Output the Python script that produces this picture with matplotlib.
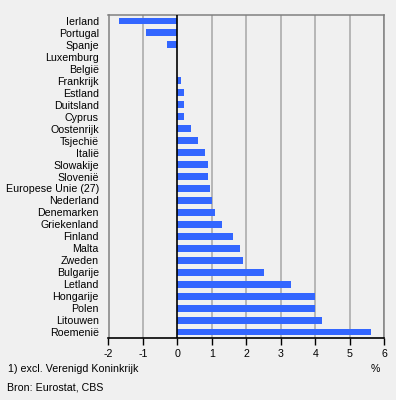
import matplotlib.pyplot as plt

countries = ["Ierland", "Portugal", "Spanje", "Luxemburg", "België", "Frankrijk",
             "Estland", "Duitsland", "Cyprus", "Oostenrijk", "Tsjechië", "Italië",
             "Slowakije", "Slovenië", "Europese Unie (27)", "Nederland", "Denemarken",
             "Griekenland", "Finland", "Malta", "Zweden", "Bulgarije", "Letland",
             "Hongarije", "Polen", "Litouwen", "Roemenië"]
values = [-1.7, -0.9, -0.3, 0.0, 0.0, 0.1,
          0.2, 0.2, 0.2, 0.4, 0.6, 0.8,
          0.9, 0.9, 0.95, 1.0, 1.1,
          1.3, 1.6, 1.8, 1.9, 2.5, 3.3,
          4.0, 4.0, 4.2, 5.6]
xticks = [-2, -1, 0, 1, 2, 3, 4, 5, 6]

bg = "#f0f0f0"
plt.rcParams["font.family"] = ["Liberation Sans", "DejaVu Sans"]

fig = plt.figure(figsize=(3.96, 4.0), dpi=100, facecolor=bg)
ax = fig.add_axes([108.5 / 396, 1 - 338 / 400, (384.3 - 108.5) / 396, (338 - 15) / 400])
ax.set_facecolor(bg)

pos = list(range(len(countries)))
ax.barh(pos, values, height=0.58, color="#3366ff", zorder=3)
ax.set_ylim(len(countries) - 0.5, -0.5)
ax.set_xlim(-2, 6)

for x in xticks:
    if x != 0:
        ax.axvline(x, color="#a6a6a6", lw=1.1, zorder=1)
ax.axvline(0, color="black", lw=1.2, zorder=4)

ax.set_yticks(pos)
ax.set_yticklabels(countries, fontsize=7.7)
ax.tick_params(axis="y", length=0, pad=7)
ax.set_xticks(xticks)
ax.set_xticklabels([str(x) for x in xticks], fontsize=7.7)
ax.tick_params(axis="x", length=5, width=1, color="black", pad=3)

for s in ["top", "right", "left"]:
    ax.spines[s].set_color("#808080")
    ax.spines[s].set_linewidth(1.1)
ax.spines["bottom"].set_color("black")
ax.spines["bottom"].set_linewidth(1.2)

fig.text(380 / 396, 1 - 369 / 400, "%", fontsize=7.7, ha="right", va="center")
fig.text(8 / 396, 1 - 369 / 400, "1) excl. Verenigd Koninkrijk", fontsize=7.7, ha="left", va="center")
fig.text(7 / 396, 1 - 387 / 400, "Bron: Eurostat, CBS", fontsize=7.7, ha="left", va="center")

fig.savefig("out.png", dpi=100, facecolor=bg)
